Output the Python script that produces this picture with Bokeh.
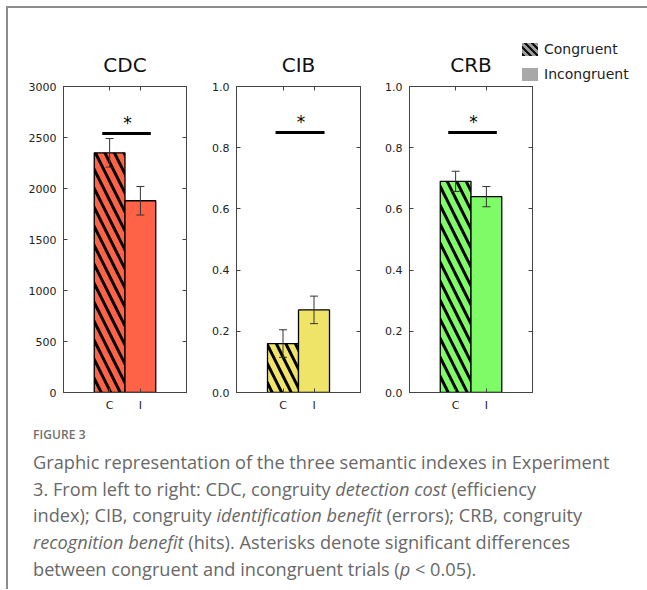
from bokeh.plotting import figure
from bokeh.models import (ColumnDataSource, Range1d, FactorRange, FixedTicker, LinearAxis,
                          CategoricalAxis, Whisker, TeeHead, Div,
                          NumeralTickFormatter, BasicTickFormatter)
from bokeh.layouts import row, column
from bokeh.embed import file_html
from bokeh.resources import INLINE
from bokeh.core.properties import value

# ---------------- data ----------------
conditions = ["C", "I"]
panel_titles = ["CDC", "CIB", "CRB"]
cdc_means = [2350, 1880]
cdc_errors = [140, 140]
cib_means = [0.16, 0.27]
cib_errors = [0.045, 0.045]
crb_means = [0.69, 0.64]
crb_errors = [0.033, 0.033]
cdc_ticks = [0, 500, 1000, 1500, 2000, 2500, 3000]
rate_ticks = [0.0, 0.2, 0.4, 0.6, 0.8, 1.0]
y_maxes = [3000, 1.0, 1.0]
sig_levels = [2540, 0.85, 0.85]
sig_marks = ["*", "*", "*"]
bar_colors = ["#FF6347", "#F0E468", "#7EFB66"]
legend_labels = ["Congruent", "Incongruent"]
caption_label = "FIGURE 3"
caption_lines = [
    "Graphic representation of the three semantic indexes in Experiment",
    "3. From left to right: CDC, congruity <i>detection cost</i> (efficiency",
    "index); CIB, congruity <i>identification benefit</i> (errors); CRB, congruity",
    "<i>recognition benefit</i> (hits). Asterisks denote significant differences",
    "between congruent and incongruent trials (<i>p</i> &lt; 0.05).",
]

FONT = "DejaVu Sans"
AX = "#444444"
TXT = "#222222"


def style_axis(ax, show_labels=True):
    ax.axis_line_color = AX
    ax.major_tick_line_color = AX
    ax.major_tick_in = 4
    ax.major_tick_out = 0
    ax.minor_tick_in = 0
    ax.minor_tick_out = 0
    ax.major_label_text_font = FONT
    ax.major_label_text_color = TXT
    if show_labels:
        ax.major_label_text_font_size = "11px"
        ax.major_label_standoff = 7
    else:
        ax.major_label_text_font_size = "0px"
        ax.major_label_text_color = None
        ax.major_label_standoff = 0


def make_panel(title, means, errors, ymax, ticks, fmt, color, sig, mark,
               border_left, frame_w, border_right):
    p = figure(x_range=FactorRange(*conditions, range_padding=1, range_padding_units="absolute"),
               y_range=Range1d(0, ymax),
               frame_width=frame_w, frame_height=306,
               min_border_left=border_left, min_border_right=border_right,
               min_border_top=78, min_border_bottom=25,
               output_backend="svg", toolbar_location=None, title=title)
    p.title.text_font = FONT
    p.title.text_font_size = "20px"
    p.title.text_font_style = "normal"
    p.title.text_color = "#111111"
    p.title.align = "center"
    p.title.standoff = 19
    p.grid.visible = False
    p.outline_line_color = AX
    p.background_fill_color = "white"
    p.border_fill_alpha = 0

    src = ColumnDataSource(dict(
        cond=conditions,
        mean=means,
        upper=[m + e for m, e in zip(means, errors)],
        lower=[m - e for m, e in zip(means, errors)],
        hatch=["left_diagonal_line", " "],
    ))
    p.vbar(x="cond", top="mean", width=1.0, source=src,
           fill_color=color, line_color="black", line_width=1.3,
           hatch_pattern="hatch", hatch_color="black", hatch_weight=3.0, hatch_scale=19)

    wh = Whisker(source=src, base="cond", upper="upper", lower="lower",
                 line_color="#333333", line_width=1, level="overlay",
                 upper_head=TeeHead(size=8, line_color="#333333", line_width=1),
                 lower_head=TeeHead(size=8, line_color="#333333", line_width=1))
    p.add_layout(wh)

    p.segment(x0=[("C", -0.24)], y0=[sig], x1=[("I", 0.34)], y1=[sig],
              line_color="black", line_width=3)
    p.text(x=[("C", 0.58)], y=[sig], text=[mark], text_align="center",
           text_baseline="alphabetic", y_offset=-10, text_font=value(FONT),
           text_font_size="17px", text_color="black")

    p.yaxis.ticker = FixedTicker(ticks=ticks)
    p.yaxis.formatter = fmt
    style_axis(p.yaxis[0])
    style_axis(p.xaxis[0])
    p.xaxis.major_label_standoff = 6

    right = LinearAxis(ticker=FixedTicker(ticks=ticks))
    style_axis(right, show_labels=False)
    p.add_layout(right, "right")
    top = CategoricalAxis()
    style_axis(top, show_labels=False)
    p.add_layout(top, "above")
    return p


p1 = make_panel(panel_titles[0], cdc_means, cdc_errors, y_maxes[0], cdc_ticks,
                BasicTickFormatter(), bar_colors[0], sig_levels[0], sig_marks[0], 55, 123, 12)
p2 = make_panel(panel_titles[1], cib_means, cib_errors, y_maxes[1], rate_ticks,
                NumeralTickFormatter(format="0.0"), bar_colors[1], sig_levels[1], sig_marks[1], 38, 124, 14)
p3 = make_panel(panel_titles[2], crb_means, crb_errors, y_maxes[2], rate_ticks,
                NumeralTickFormatter(format="0.0"), bar_colors[2], sig_levels[2], sig_marks[2], 35, 123, 15)

# ---------------- legend (HTML, sitting above the top-right corner of the panels) ----------------
swatch_styles = [
    "background:repeating-linear-gradient(45deg,#111 0px,#111 2.2px,#9a9a9a 2.2px,#9a9a9a 5px);",
    "background:#a8a8a8;",
]
legend_rows = "".join(
    "<div style=\"display:flex;align-items:center;height:25px;\">"
    f"<span style=\"display:inline-block;width:16px;height:13px;margin-right:6px;{sw}\"></span>"
    f"<span>{lab}</span></div>"
    for lab, sw in zip(legend_labels, swatch_styles)
)
legend_div = Div(
    text=f"<div style=\"font-family:'DejaVu Sans';font-size:14px;color:{TXT};line-height:25px;white-space:nowrap;\">{legend_rows}</div>",
    width=118, height=50, margin=(29, 0, 0, 514),
    styles={"position": "relative", "z-index": "5"},
)

panels = row(p1, p2, p3, margin=(-79, 0, 0, 0))

lines_html = "<br>".join(caption_lines)
caption = Div(
    text=(
        "<div style=\"padding-left:20px; font-family:'Open Sans';\">"
        f"<div style=\"margin-top:4px; font-size:12px; font-weight:600; line-height:18px; color:#707070; letter-spacing:0.1px;\">{caption_label}</div>"
        f"<div style=\"margin-top:5px; font-size:18.2px; line-height:26.7px; color:#686868;\">{lines_html}</div>"
        "</div>"
    ),
    width=629, height=162,
)

layout = column(legend_div, panels, caption, margin=(6, 0, 0, 6),
                styles={"border-top": "2px solid #8c8c8c", "border-left": "2px solid #8c8c8c"})

open("out.html", "w").write(file_html(layout, INLINE))
